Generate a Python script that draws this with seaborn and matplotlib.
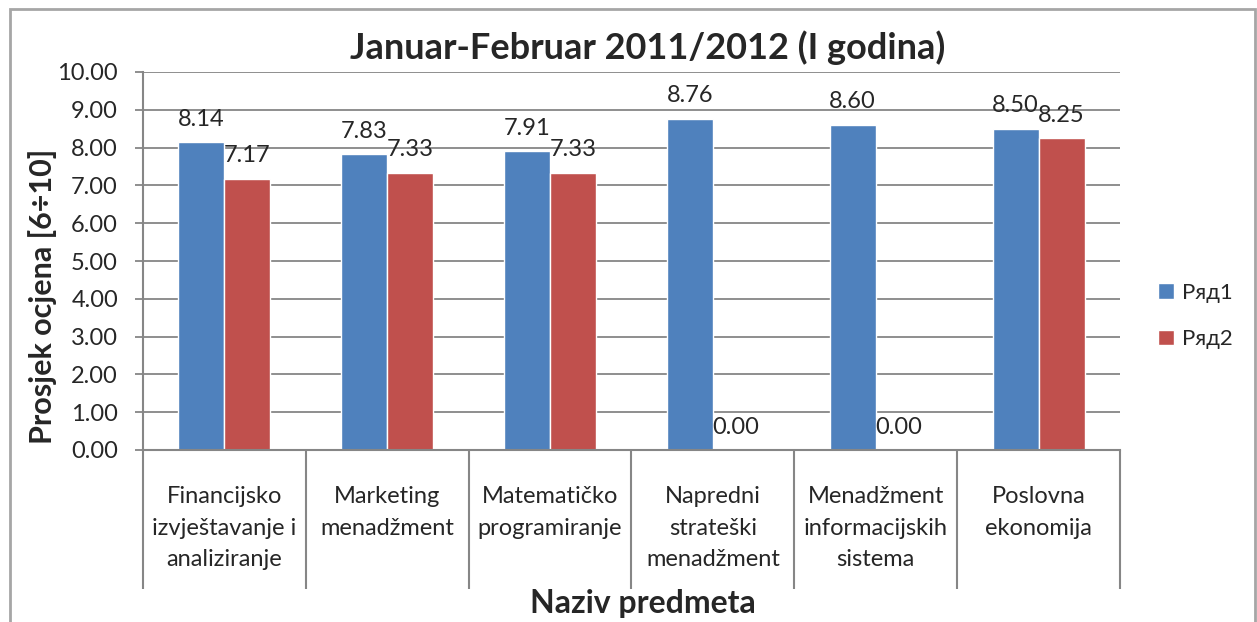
import pandas as pd
import matplotlib.pyplot as plt
import matplotlib.patches as mpatches
from matplotlib.ticker import FixedLocator, FormatStrFormatter
import seaborn as sns

# Chart data
subjects = [
    'Financijsko\nizvještavanje i\nanaliziranje',
    'Marketing\nmenadžment',
    'Matematičko\nprogramiranje',
    'Napredni\nstrateški\nmenadžment',
    'Menadžment\ninformacijskih\nsistema',
    'Poslovna\nekonomija',
]
series_names = ['Ряд1', 'Ряд2']
row1 = [8.14, 7.83, 7.91, 8.76, 8.60, 8.50]
row2 = [7.17, 7.33, 7.33, 0.00, 0.00, 8.25]
y_ticks = [0, 1, 2, 3, 4, 5, 6, 7, 8, 9, 10]

df = pd.DataFrame({
    'Predmet': subjects * 2,
    'Serija': [series_names[0]] * len(subjects) + [series_names[1]] * len(subjects),
    'Ocjena': row1 + row2,
})

sns.set_style('white')
plt.rcParams['font.family'] = ['Lato', 'DejaVu Sans']

W, H = 1257, 622
fig = plt.figure(figsize=(W / 100, H / 100), dpi=100)
ax = fig.add_axes([143 / W, 1 - 450 / H, (1120 - 143) / W, (450 - 72) / H])

grey = '#868686'
sns.barplot(data=df, x='Predmet', y='Ocjena', hue='Serija',
            palette=['#4F81BD', '#C0504D'], width=0.565, gap=0,
            saturation=1, ax=ax)

for cont in ax.containers:
    ax.bar_label(cont, fmt='%.2f', padding=9, fontsize=17)

ax.set_ylim(0, 10)
ax.set_yticks(y_ticks)
ax.yaxis.set_major_formatter(FormatStrFormatter('%.2f'))
ax.yaxis.grid(True, color=grey, lw=1.3)
ax.set_axisbelow(True)

for s in ['top', 'right']:
    ax.spines[s].set_visible(False)
for s in ['left', 'bottom']:
    ax.spines[s].set_color(grey)
    ax.spines[s].set_linewidth(1.5)

ax.tick_params(axis='y', left=True, length=6, width=1.3, color=grey,
               direction='out', pad=12, labelsize=17)
ax.tick_params(axis='x', which='major', length=0, pad=26, labelsize=17)
ax.xaxis.set_minor_locator(FixedLocator([i - 0.5 for i in range(len(subjects) + 1)]))
ax.tick_params(axis='x', which='minor', bottom=True, length=100, width=1.5,
               color=grey, direction='out')
for lbl in ax.get_xticklabels():
    lbl.set_linespacing(1.62)

ax.set_xlabel('')
ax.set_ylabel('')
fig.text(643 / W, 1 - 603 / H, 'Naziv predmeta', ha='center', va='center',
         fontsize=23, fontweight='bold')
fig.text(43 / W, 1 - 296 / H, 'Prosjek ocjena [6÷10]', ha='center', va='center',
         rotation=90, fontsize=22, fontweight='bold')
fig.text(648 / W, 1 - 48 / H, 'Januar-Februar 2011/2012 (I godina)', ha='center',
         va='center', fontsize=26, fontweight='bold')

handles, labels = ax.get_legend_handles_labels()
ax.legend_.remove()
fig.legend(handles, labels, loc='center left', bbox_to_anchor=(1138 / W, 1 - 316 / H),
           frameon=False, fontsize=16, handlelength=0.7, handleheight=0.7,
           handletextpad=0.4, labelspacing=1.2)

# outer chart border
fig.patches.append(mpatches.Rectangle((10 / W, -0.05), (1255 - 10) / W, 1.05 - 9 / H,
                                      transform=fig.transFigure, fill=False,
                                      edgecolor='#a6a6a6', lw=2))

fig.savefig('out.png', dpi=100)
